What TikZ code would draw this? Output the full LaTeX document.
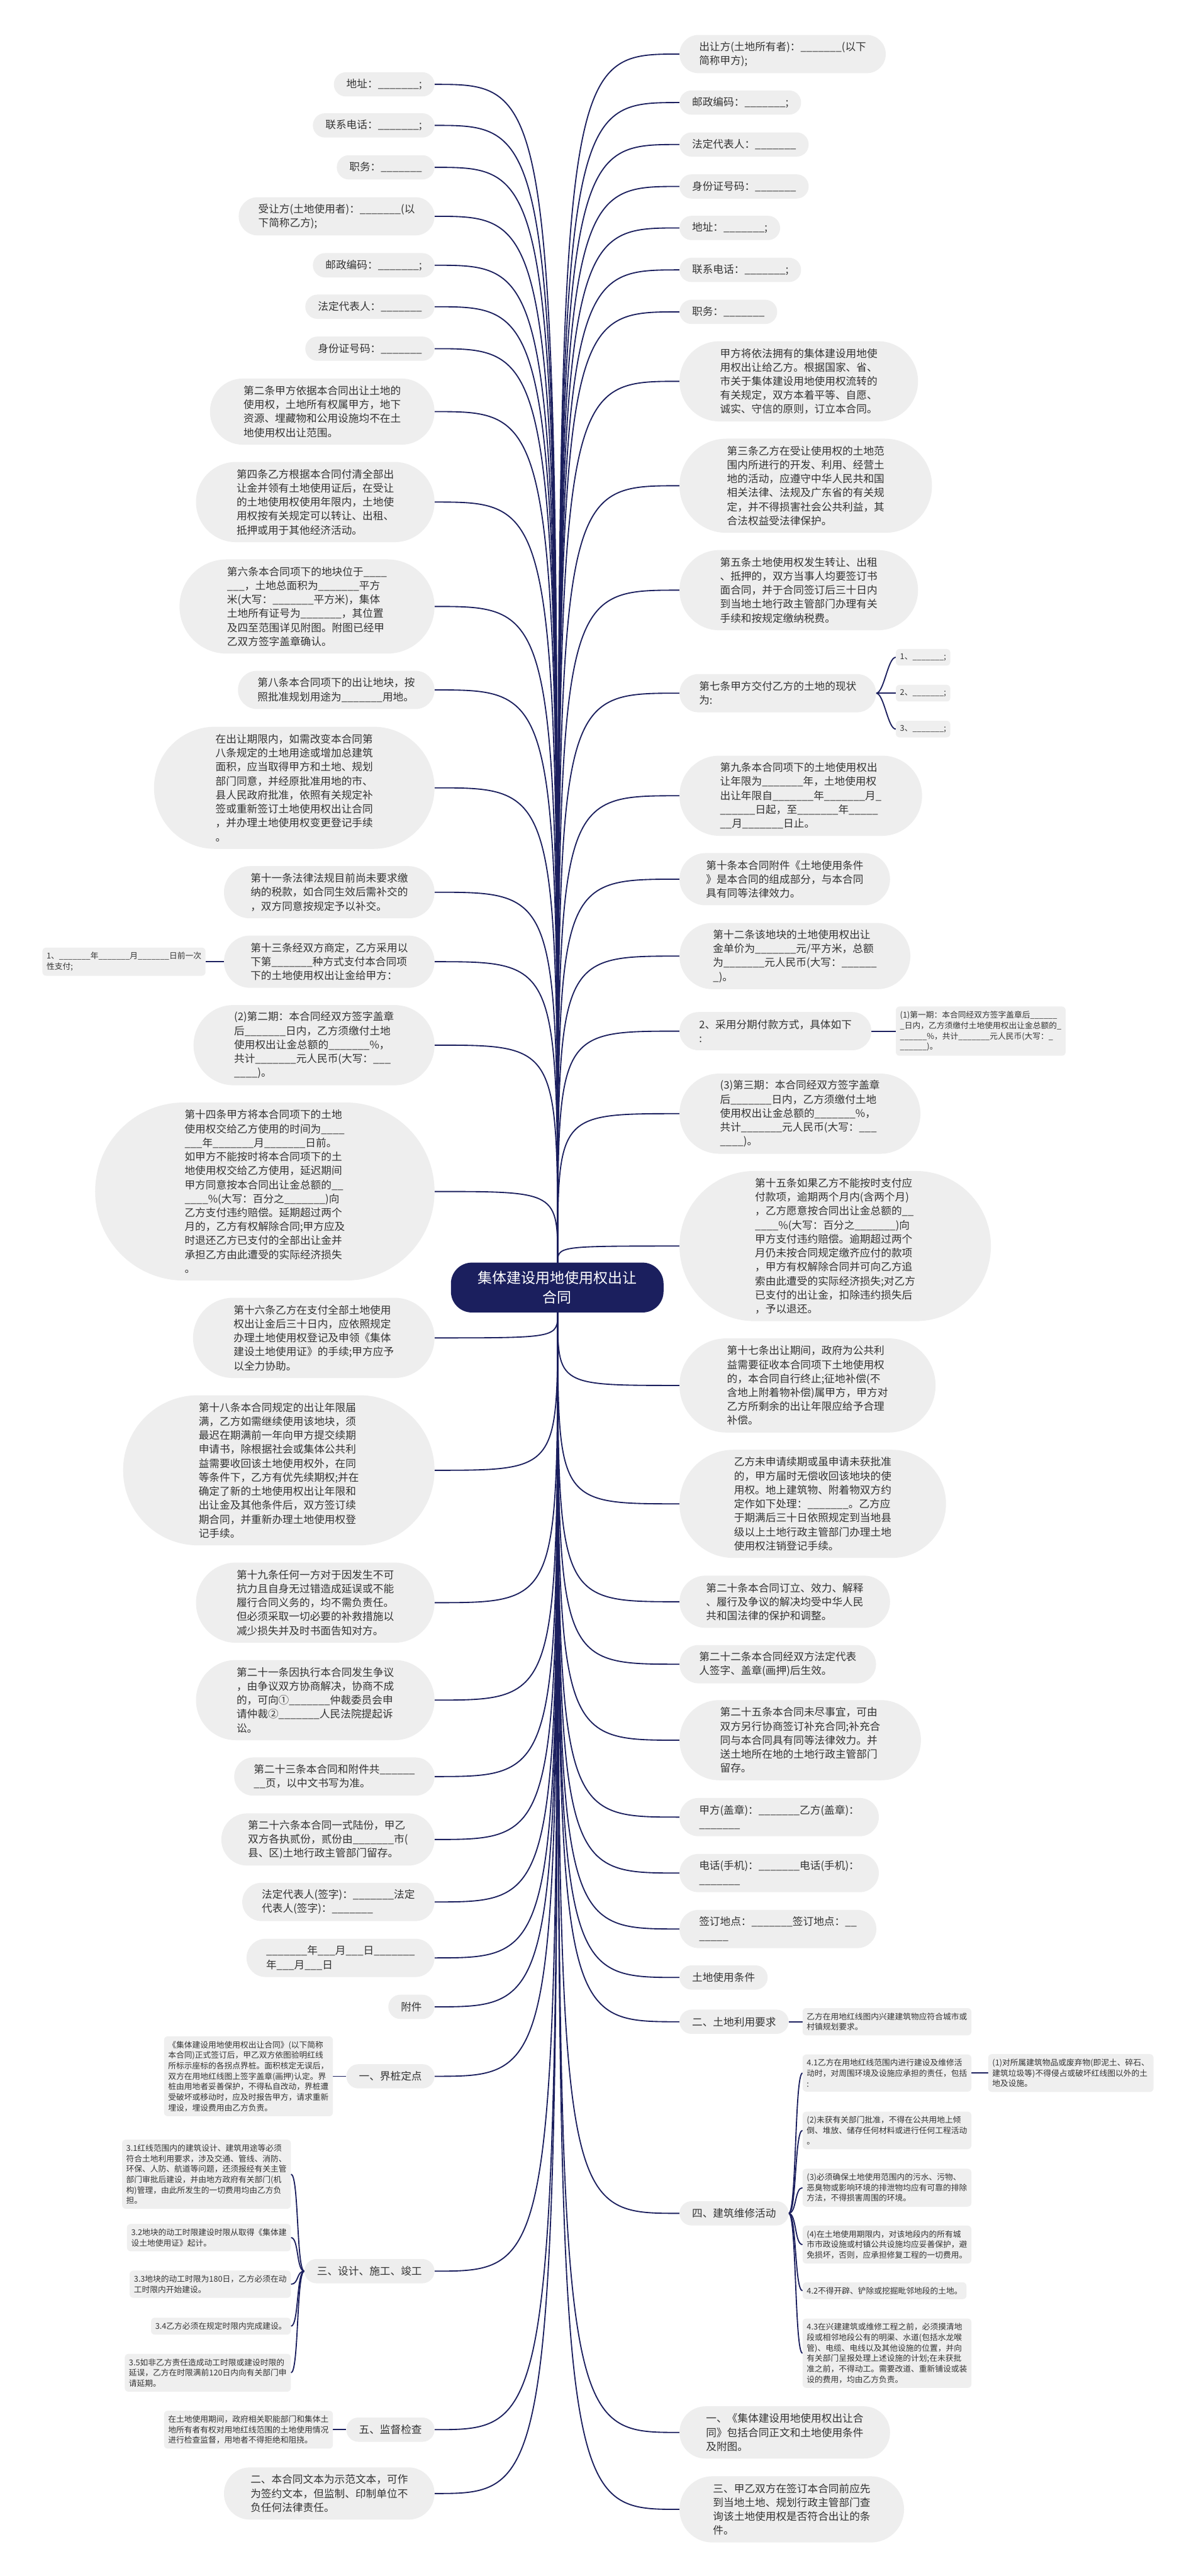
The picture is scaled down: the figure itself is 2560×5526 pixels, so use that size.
\documentclass[tikz,border=0pt]{standalone}
\usepackage{fontspec}
\setmainfont{Noto Sans CJK SC}
\usetikzlibrary{calc,backgrounds}
\definecolor{navy}{HTML}{1B1F5E}
\definecolor{bub}{HTML}{EEEEEE}
\definecolor{bubs}{HTML}{EFEFEF}
\definecolor{txt}{HTML}{333333}
\pgfdeclarelayer{bgzero}
\pgfsetlayers{bgzero,background,main}
\newcommand\lk[2]{\draw[conn] (#1.east) .. controls (#2 |- #1.east) .. (#2);}
\newcommand\rk[2]{\draw[conn] (#1.west) .. controls (#2 |- #1.west) .. (#2);}
\newcommand\lbr[2]{\draw[conn] (#1.west) .. controls +(-17,0) and +(17,0) .. (#2.east);}
\newcommand\rbr[2]{\draw[conn] (#1.east) .. controls +(17,0) and +(-17,0) .. (#2.west);}
\begin{document}
\catcode`\_=12
\begin{tikzpicture}[x=1pt,y=-1pt,
  main/.style={rectangle, fill=bub, text=txt, align=left, inner ysep=0pt, font=\fontsize{22.5}{30}\selectfont, minimum height={30*#1+22}, rounded corners={15*#1+10.8}, inner xsep={15*#1+12}},
  subb/.style={rectangle, rounded corners=8pt, fill=bubs, text=txt, align=left, inner xsep=9pt, inner ysep=10pt, font=\fontsize{17.2}{22.5}\selectfont},
  conn/.style={draw=navy, line width=2.5pt},
  root/.style={rectangle, rounded corners=45pt, fill=navy, text=white, align=center, font=\fontsize{31}{43}\selectfont, minimum width=456pt, minimum height=107pt, inner sep=0pt}]
\useasboundingbox (0,0) rectangle (2560,5526);
\begin{pgfonlayer}{bgzero}
\fill[white] (0,0) rectangle (2560,5526);
\end{pgfonlayer}

\node[root] (c) at (1195,2762) {集体建设用地使用权出让\\合同};
\coordinate (ctop) at (1196,2709);
\coordinate (cbot) at (1196,2816);

% ---------------- left side ----------------
\node[main=1, anchor=east] (l1) at (932,181) {地址：_______;};
\node[main=1, anchor=east] (l2) at (932,269) {联系电话：_______;};
\node[main=1, anchor=east] (l3) at (932,359) {职务：_______};
\node[main=2, anchor=east] (l4) at (932,464) {受让方(土地使用者)：_______(以\\下简称乙方);};
\node[main=1, anchor=east] (l5) at (932,569) {邮政编码：_______;};
\node[main=1, anchor=east] (l6) at (932,658) {法定代表人：_______};
\node[main=1, anchor=east] (l7) at (932,748) {身份证号码：_______};
\node[main=4, anchor=east] (l8) at (932,883) {第二条甲方依据本合同出让土地的\\使用权，土地所有权属甲方，地下\\资源、埋藏物和公用设施均不在土\\地使用权出让范围。};
\node[main=5, anchor=east] (l9) at (932,1077) {第四条乙方根据本合同付清全部出\\让金并领有土地使用证后，在受让\\的土地使用权使用年限内，土地使\\用权按有关规定可以转让、出租、\\抵押或用于其他经济活动。};
\node[main=6, anchor=east] (l10) at (932,1301) {第六条本合同项下的地块位于____\\___，土地总面积为_______平方\\米(大写：_______平方米)，集体\\土地所有证号为_______，其位置\\及四至范围详见附图。附图已经甲\\乙双方签字盖章确认。};
\node[main=2, anchor=east] (l11) at (932,1480) {第八条本合同项下的出让地块，按\\照批准规划用途为_______用地。};
\node[main=8, anchor=east] (l12) at (932,1690) {在出让期限内，如需改变本合同第\\八条规定的土地用途或增加总建筑\\面积，应当取得甲方和土地、规划\\部门同意，并经原批准用地的市、\\县人民政府批准，依照有关规定补\\签或重新签订土地使用权出让合同\\，并办理土地使用权变更登记手续\\。};
\node[main=3, anchor=east] (l13) at (932,1914) {第十一条法律法规目前尚未要求缴\\纳的税款，如合同生效后需补交的\\，双方同意按规定予以补交。};
\node[main=3, anchor=east] (l14) at (932,2063) {第十三条经双方商定，乙方采用以\\下第_______种方式支付本合同项\\下的土地使用权出让金给甲方：};
\node[subb, anchor=east] (l14a) at (441,2063) {1、_______年_______月_______日前一次\\性支付;};
\node[main=5, anchor=east] (l15) at (932,2242) {(2)第二期：本合同经双方签字盖章\\后_______日内，乙方须缴付土地\\使用权出让金总额的_______\%，\\共计_______元人民币(大写：___\\____)。};
\node[main=12, anchor=east] (l16) at (932,2556) {第十四条甲方将本合同项下的土地\\使用权交给乙方使用的时间为____\\___年_______月_______日前。\\如甲方不能按时将本合同项下的土\\地使用权交给乙方使用，延迟期间\\甲方同意按本合同出让金总额的__\\____\%(大写：百分之_______)向\\乙方支付违约赔偿。延期超过两个\\月的，乙方有权解除合同;甲方应及\\时退还乙方已支付的全部出让金并\\承担乙方由此遭受的实际经济损失\\。};
\node[main=5, anchor=east] (l17) at (932,2870) {第十六条乙方在支付全部土地使用\\权出让金后三十日内，应依照规定\\办理土地使用权登记及申领《集体\\建设土地使用证》的手续;甲方应予\\以全力协助。};
\node[main=10, anchor=east] (l18) at (932,3154) {第十八条本合同规定的出让年限届\\满，乙方如需继续使用该地块，须\\最迟在期满前一年向甲方提交续期\\申请书，除根据社会或集体公共利\\益需要收回该土地使用权外，在同\\等条件下，乙方有优先续期权;并在\\确定了新的土地使用权出让年限和\\出让金及其他条件后，双方签订续\\期合同，并重新办理土地使用权登\\记手续。};
\node[main=5, anchor=east] (l19) at (932,3438) {第十九条任何一方对于因发生不可\\抗力且自身无过错造成延误或不能\\履行合同义务的，均不需负责任。\\但必须采取一切必要的补救措施以\\减少损失并及时书面告知对方。};
\node[main=5, anchor=east] (l20) at (932,3647) {第二十一条因执行本合同发生争议\\，由争议双方协商解决，协商不成\\的，可向①_______仲裁委员会申\\请仲裁②_______人民法院提起诉\\讼。};
\node[main=2, anchor=east] (l21) at (932,3811) {第二十三条本合同和附件共______\\__页，以中文书写为准。};
\node[main=3, anchor=east] (l22) at (932,3946) {第二十六条本合同一式陆份，甲乙\\双方各执贰份，贰份由_______市(\\县、区)土地行政主管部门留存。};
\node[main=2, anchor=east] (l23) at (932,4080) {法定代表人(签字)：_______法定\\代表人(签字)：_______};
\node[main=2, anchor=east] (l24) at (932,4200) {_______年___月___日_______\\年___月___日};
\node[main=1, anchor=east] (l25) at (932,4305) {附件};
\node[main=1, anchor=east] (l26) at (932,4454) {一、界桩定点};
\node[subb, anchor=east] (l26a) at (714,4454) {《集体建设用地使用权出让合同》(以下简称\\本合同)正式签订后，甲乙双方依图验明红线\\所标示座标的各拐点界桩。面积核定无误后，\\双方在用地红线图上签字盖章(画押)认定。界\\桩由用地者妥善保护，不得私自改动，界桩遭\\受破坏或移动时，应及时报告甲方，请求重新\\埋设，埋设费用由乙方负责。};
\node[main=1, anchor=east] (l27) at (932,4872) {三、设计、施工、竣工};
\node[subb, anchor=east] (l27a) at (624,4664) {3.1红线范围内的建筑设计、建筑用途等必须\\符合土地利用要求，涉及交通、管线、消防、\\环保、人防、航道等问题，还须报经有关主管\\部门审批后建设，并由地方政府有关部门(机\\构)管理，由此所发生的一切费用均由乙方负\\担。};
\node[subb, anchor=east] (l27b) at (624,4800) {3.2地块的动工时限建设时限从取得《集体建\\设土地使用证》起计。};
\node[subb, anchor=east] (l27c) at (624,4900) {3.3地块的动工时限为180日，乙方必须在动\\工时限内开始建设。};
\node[subb, anchor=east] (l27d) at (624,4990) {3.4乙方必须在规定时限内完成建设。};
\node[subb, anchor=east] (l27e) at (624,5090) {3.5如非乙方责任造成动工时限或建设时限的\\延误，乙方在时限满前120日内向有关部门申\\请延期。};
\node[main=1, anchor=east] (l28) at (932,5212) {五、监督检查};
\node[subb, anchor=east] (l28a) at (714,5212) {在土地使用期间，政府相关职能部门和集体土\\地所有者有权对用地红线范围的土地使用情况\\进行检查监督，用地者不得拒绝和阻挠。};
\node[main=3, anchor=east] (l29) at (932,5349) {二、本合同文本为示范文本，可作\\为签约文本，但监制、印制单位不\\负任何法律责任。};

% ---------------- right side ----------------
\node[main=2, anchor=west] (r1) at (1457,116) {出让方(土地所有者)：_______(以下\\简称甲方);};
\node[main=1, anchor=west] (r2) at (1457,220) {邮政编码：_______;};
\node[main=1, anchor=west] (r3) at (1457,310) {法定代表人：_______};
\node[main=1, anchor=west] (r4) at (1457,400) {身份证号码：_______};
\node[main=1, anchor=west] (r5) at (1457,489) {地址：_______;};
\node[main=1, anchor=west] (r6) at (1457,579) {联系电话：_______;};
\node[main=1, anchor=west] (r7) at (1457,669) {职务：_______};
\node[main=5, anchor=west] (r8) at (1457,818) {甲方将依法拥有的集体建设用地使\\用权出让给乙方。根据国家、省、\\市关于集体建设用地使用权流转的\\有关规定，双方本着平等、自愿、\\诚实、守信的原则，订立本合同。};
\node[main=6, anchor=west] (r9) at (1457,1042) {第三条乙方在受让使用权的土地范\\围内所进行的开发、利用、经营土\\地的活动，应遵守中华人民共和国\\相关法律、法规及广东省的有关规\\定，并不得损害社会公共利益，其\\合法权益受法律保护。};
\node[main=5, anchor=west] (r10) at (1457,1266) {第五条土地使用权发生转让、出租\\、抵押的，双方当事人均要签订书\\面合同，并于合同签订后三十日内\\到当地土地行政主管部门办理有关\\手续和按规定缴纳税费。};
\node[main=2, anchor=west] (r11) at (1457,1487) {第七条甲方交付乙方的土地的现状\\为:};
\node[subb, anchor=west] (r11a) at (1921,1410) {1、_______;};
\node[subb, anchor=west] (r11b) at (1921,1487) {2、_______;};
\node[subb, anchor=west] (r11c) at (1921,1564) {3、_______;};
\node[main=5, anchor=west] (r12) at (1457,1707) {第九条本合同项下的土地使用权出\\让年限为_______年，土地使用权\\出让年限自_______年_______月_\\______日起，至_______年_____\\__月_______日止。};
\node[main=3, anchor=west] (r13) at (1457,1886) {第十条本合同附件《土地使用条件\\》是本合同的组成部分，与本合同\\具有同等法律效力。};
\node[main=4, anchor=west] (r14) at (1457,2051) {第十二条该地块的土地使用权出让\\金单价为_______元/平方米，总额\\为_______元人民币(大写：______\\_)。};
\node[main=2, anchor=west] (r15) at (1457,2212) {2、采用分期付款方式，具体如下\\:};
\node[subb, anchor=west] (r15a) at (1921,2212) {(1)第一期：本合同经双方签字盖章后______\\_日内，乙方须缴付土地使用权出让金总额的_\\______\%，共计_______元人民币(大写：_\\______)。};
\node[main=5, anchor=west] (r16) at (1457,2389) {(3)第三期：本合同经双方签字盖章\\后_______日内，乙方须缴付土地\\使用权出让金总额的_______\%，\\共计_______元人民币(大写：___\\____)。};
\node[main=10, anchor=west] (r17) at (1457,2673) {第十五条如果乙方不能按时支付应\\付款项，逾期两个月内(含两个月)\\，乙方愿意按合同出让金总额的__\\____\%(大写：百分之_______)向\\甲方支付违约赔偿。逾期超过两个\\月仍未按合同规定缴齐应付的款项\\，甲方有权解除合同并可向乙方追\\索由此遭受的实际经济损失;对乙方\\已支付的出让金，扣除违约损失后\\，予以退还。};
\node[main=6, anchor=west] (r18) at (1457,2972) {第十七条出让期间，政府为公共利\\益需要征收本合同项下土地使用权\\的，本合同自行终止;征地补偿(不\\含地上附着物补偿)属甲方，甲方对\\乙方所剩余的出让年限应给予合理\\补偿。};
\node[main=7, anchor=west] (r19) at (1457,3226) {乙方未申请续期或虽申请未获批准\\的，甲方届时无偿收回该地块的使\\用权。地上建筑物、附着物双方约\\定作如下处理：_______。乙方应\\于期满后三十日依照规定到当地县\\级以上土地行政主管部门办理土地\\使用权注销登记手续。};
\node[main=3, anchor=west] (r20) at (1457,3436) {第二十条本合同订立、效力、解释\\、履行及争议的解决均受中华人民\\共和国法律的保护和调整。};
\node[main=2, anchor=west] (r21) at (1457,3570) {第二十二条本合同经双方法定代表\\人签字、盖章(画押)后生效。};
\node[main=5, anchor=west] (r22) at (1457,3733) {第二十五条本合同未尽事宜，可由\\双方另行协商签订补充合同;补充合\\同与本合同具有同等法律效力。并\\送土地所在地的土地行政主管部门\\留存。};
\node[main=2, anchor=west] (r23) at (1457,3898) {甲方(盖章)：_______乙方(盖章)：\\_______};
\node[main=2, anchor=west] (r24) at (1457,4018) {电话(手机)：_______电话(手机)：\\_______};
\node[main=2, anchor=west] (r25) at (1457,4138) {签订地点：_______签订地点：__\\_____};
\node[main=1, anchor=west] (r26) at (1457,4242) {土地使用条件};
\node[main=1, anchor=west] (r27) at (1457,4337) {二、土地利用要求};
\node[subb, anchor=west] (r27a) at (1721,4337) {乙方在用地红线图内兴建建筑物应符合城市或\\村镇规划要求。};
\node[main=1, anchor=west] (r28) at (1457,4748) {四、建筑维修活动};
\node[subb, anchor=west] (r28a) at (1721,4447) {4.1乙方在用地红线范围内进行建设及维修活\\动时，对周围环境及设施应承担的责任，包括\\:};
\node[subb, anchor=west] (r28a1) at (2119,4447) {(1)对所属建筑物品或废弃物(即泥土、碎石、\\建筑垃圾等)不得侵占或破坏红线图以外的土\\地及设施。};
\node[subb, anchor=west] (r28b) at (1721,4570) {(2)未获有关部门批准，不得在公共用地上倾\\倒、堆放、储存任何材料或进行任何工程活动\\。};
\node[subb, anchor=west] (r28c) at (1721,4693) {(3)必须确保土地使用范围内的污水、污物、\\恶臭物或影响环境的排泄物均应有可靠的排除\\方法，不得损害周围的环境。};
\node[subb, anchor=west] (r28d) at (1721,4815) {(4)在土地使用期限内，对该地段内的所有城\\市市政设施或村镇公共设施均应妥善保护，避\\免损坏，否则，应承担修复工程的一切费用。};
\node[subb, anchor=west] (r28e) at (1721,4914) {4.2不得开辟、铲除或挖掘毗邻地段的土地。};
\node[subb, anchor=west] (r28f) at (1721,5048) {4.3在兴建建筑或维修工程之前，必须摸清地\\段或相邻地段公有的明渠、水道(包括水龙喉\\管)、电缆、电线以及其他设施的位置，并向\\有关部门呈报处理上述设施的计划;在未获批\\准之前，不得动工。需要改道、重新铺设或装\\设的费用，均由乙方负责。};
\node[main=3, anchor=west] (r29) at (1457,5218) {一、《集体建设用地使用权出让合\\同》包括合同正文和土地使用条件\\及附图。};
\node[main=4, anchor=west] (r30) at (1457,5383) {三、甲乙双方在签订本合同前应先\\到当地土地、规划行政主管部门查\\询该土地使用权是否符合出让的条\\件。};

% ---------------- connectors ----------------
\begin{scope}[on background layer]
\foreach \n in {l1,l2,l3,l4,l5,l6,l7,l8,l9,l10,l11,l12,l13,l14,l15,l16} {\lk{\n}{ctop}}
\foreach \n in {l17,l18,l19,l20,l21,l22,l23,l24,l25,l26,l27,l28,l29} {\lk{\n}{cbot}}
\foreach \n in {r1,r2,r3,r4,r5,r6,r7,r8,r9,r10,r11,r12,r13,r14,r15,r16,r17} {\rk{\n}{ctop}}
\foreach \n in {r18,r19,r20,r21,r22,r23,r24,r25,r26,r27,r28,r29,r30} {\rk{\n}{cbot}}
\draw[conn] (l14.west) -- (l14a.east);
\draw[conn] (l26.west) -- (l26a.east);
\draw[conn] (l28.west) -- (l28a.east);
\foreach \n in {l27a,l27b,l27c,l27d,l27e} {\lbr{l27}{\n}}
\foreach \n in {r11a,r11b,r11c} {\rbr{r11}{\n}}
\draw[conn] (r15.east) -- (r15a.west);
\draw[conn] (r27.east) -- (r27a.west);
\foreach \n in {r28a,r28b,r28c,r28d,r28e,r28f} {\rbr{r28}{\n}}
\draw[conn] (r28a.east) -- (r28a1.west);
\end{scope}
\end{tikzpicture}
\end{document}
